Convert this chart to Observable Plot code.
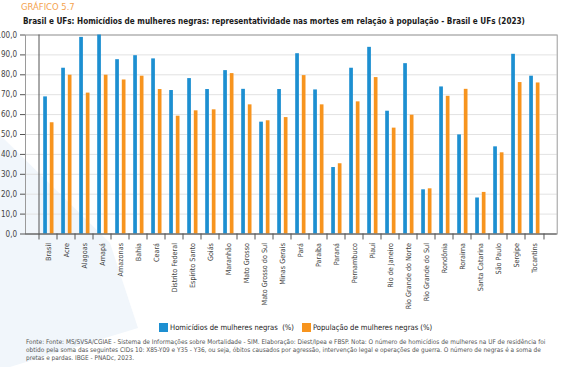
<!DOCTYPE html>
<html>
<head>
<meta charset="utf-8">
<script src="https://cdn.jsdelivr.net/npm/d3@7"></script>
<script src="https://cdn.jsdelivr.net/npm/@observablehq/plot@0.6"></script>
<style>
  html, body { margin: 0; padding: 0; background: #fff; }
  #wrap { position: relative; width: 576px; height: 367px; overflow: hidden;
    font-family: "DejaVu Sans Condensed", "Roboto", sans-serif; }
  #bg { position: absolute; left: 0; top: 0; }
  #chart { position: absolute; left: 0; top: 28px; }
  .t1 { position: absolute; left: 21px; top: 1px; font-size: 9.4px; line-height: 12px; color: #f4a24e; white-space: nowrap; }
  .t2 { position: absolute; left: 23px; top: 16px; font-size: 8.1px; line-height: 10px; font-weight: bold; color: #1a1a1a; white-space: nowrap; }
  .legend { position: absolute; top: 322.5px; height: 9px; font-size: 7.6px; color: #222; white-space: nowrap; display: flex; align-items: center; }
  .sw { display: inline-block; width: 9px; height: 9px; margin-right: 2px; }
  .note { position: absolute; left: 26px; top: 337.8px; font-size: 6.45px; line-height: 8.3px; color: #555; width: 560px; }
  .note div { white-space: nowrap; }
</style>
</head>
<body>
<div id="wrap">
  <svg id="bg" width="576" height="367"><polygon points="0,135 110,243 138,328 0,370" fill="#f1f6fb"/></svg>
  <div class="t1">GRÁFICO 5.7</div>
  <div class="t2">Brasil e UFs: Homicídios de mulheres negras: representatividade nas mortes em relação à população - Brasil e UFs (2023)</div>
  <div id="chart"></div>
  <div class="legend" style="left:159px"><span class="sw" style="background:#1d8fd1"></span>Homicídios de mulheres negras&nbsp; (%)</div>
  <div class="legend" style="left:302px"><span class="sw" style="background:#f7941e"></span>População de mulheres negras (%)</div>
  <div class="note">
    <div>Fonte: Fonte: MS/SVSA/CGIAE - Sistema de Informações sobre Mortalidade - SIM. Elaboração: Diest/Ipea e FBSP. Nota: O número de homicídios de mulheres na UF de residência foi</div>
    <div>obtido pela soma das seguintes CIDs 10: X85-Y09 e Y35 - Y36, ou seja, óbitos causados por agressão, intervenção legal e operações de guerra. O número de negras é a soma de</div>
    <div>pretas e pardas. IBGE - PNADc, 2023.</div>
  </div>
</div>
<script>
const categories = ["Brasil","Acre","Alagoas","Amapá","Amazonas","Bahia","Ceará","Distrito Federal","Espírito Santo","Goiás","Maranhão","Mato Grosso","Mato Grosso do Sul","Minas Gerais","Pará","Paraíba","Paraná","Pernambuco","Piauí","Rio de Janeiro","Rio Grande do Norte","Rio Grande do Sul","Rondônia","Roraima","Santa Catarina","São Paulo","Sergipe","Tocantins"];
const homicidios = [68.9,83.3,98.8,100.0,87.6,89.6,88.0,72.1,78.1,72.6,82.1,72.7,56.2,72.6,90.6,72.4,33.4,83.3,93.8,61.7,85.6,22.2,73.9,49.8,18.1,43.8,90.3,79.3];
const populacao = [55.9,79.8,70.8,79.8,77.4,79.3,72.6,59.2,61.9,62.4,80.6,64.9,56.9,58.5,79.6,64.9,35.3,66.4,78.6,53.2,59.7,22.7,69.2,72.7,20.9,40.8,76.1,75.9];
const yTicks = [0,10,20,30,40,50,60,70,80,90,100];

const blue = "#1d8fd1", orange = "#f7941e";
const hom = categories.map((c, i) => ({uf: c, v: homicidios[i]}));
const pop = categories.map((c, i) => ({uf: c, v: populacao[i]}));

const W = 576, mL = 25, mR = 19.3;
const half = (W - mL - mR) / categories.length / 2;
const fmt = d => d.toFixed(1).replace(".", ",");

const chart = Plot.plot({
  width: W,
  height: 281,
  marginLeft: mL,
  marginRight: mR,
  marginTop: 6.5,
  marginBottom: 75.5,
  style: {fontFamily: '"DejaVu Sans Condensed", Roboto, sans-serif', fontSize: "7.2px", color: "#444", overflow: "visible", background: "transparent"},
  x: {domain: categories, padding: 0, label: null},
  y: {domain: [0, 100], label: null},
  marks: [
    Plot.gridY(yTicks, {stroke: "#e2e2e2", strokeOpacity: 1}),
    Plot.frame({stroke: "#9a9a9a"}),
    Plot.barY(hom, {x: "uf", y: "v", fill: blue, insetLeft: 4.2, insetRight: 10.1}),
    Plot.barY(pop, {x: "uf", y: "v", fill: orange, insetLeft: 10.8, insetRight: 3.5}),
    Plot.ruleY([0], {stroke: "#555"}),
    Plot.ruleX([0], {x: () => categories[0], dx: -half, y1: 0, y2: 100, stroke: "#555"}),
    Plot.ruleX(categories, {x: d => d, dx: -half, y1: 0, y2: -3, stroke: "#555"}),
    Plot.ruleX([categories[categories.length - 1]], {x: d => d, dx: half, y1: 0, y2: -3, stroke: "#555"}),
    Plot.axisY(yTicks, {tickFormat: fmt, tickSize: 5, tickPadding: 3.5, stroke: "#555", fill: "#444", fontSize: 8}),
    Plot.axisX({tickSize: 0, tickPadding: 9, tickRotate: -90, fill: "#444"})
  ]
});
document.getElementById("chart").appendChild(chart);
</script>
</body>
</html>
